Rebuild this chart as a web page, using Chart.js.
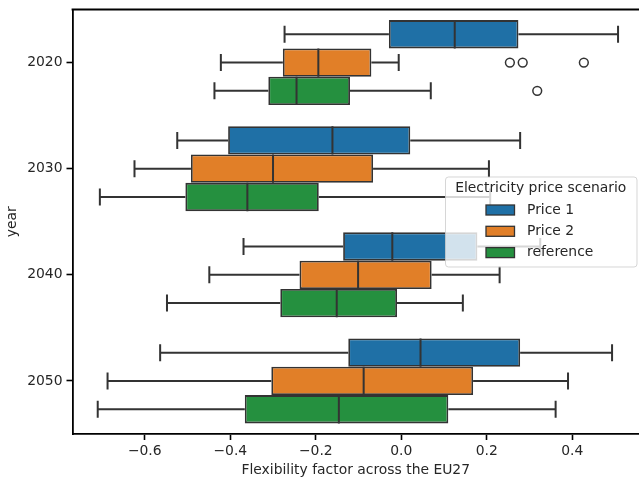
<!DOCTYPE html>
<html lang="en">
<head>
    <meta charset="UTF-8">
    <title>Flexibility factor box plot</title>
    <script src="https://cdn.jsdelivr.net/npm/chart.js@4.4.1/dist/chart.umd.min.js"></script>
    <style>
        * {
            margin: 0;
            padding: 0;
        }

        body {
            background: #ffffff;
        }

        #box {
            position: relative;
            width: 639px;
            height: 483px;
        }
    </style>
</head>
<body>
    <div id="box">
        <canvas id="chartCanvas"></canvas>
    </div>

<script>
    // categories and series
    const years = ['2020', '2030', '2040', '2050']
    const scenarios = ['Price 1', 'Price 2', 'reference']
    const colors = ['#1f70a6', '#e17f28', '#25903f']
    const xTicks = [-0.6, -0.4, -0.2, 0.0, 0.2, 0.4]

    // box statistics, one row per scenario, one column per year
    const whiskerLow = [
        [-0.273, -0.524, -0.369, -0.564],
        [-0.422, -0.624, -0.449, -0.687],
        [-0.437, -0.705, -0.548, -0.710]
    ]
    const q1 = [
        [-0.029, -0.405, -0.136, -0.124],
        [-0.277, -0.492, -0.238, -0.304],
        [-0.311, -0.505, -0.283, -0.366]
    ]
    const median = [
        [0.125, -0.161, -0.021, 0.045],
        [-0.194, -0.300, -0.101, -0.088],
        [-0.245, -0.360, -0.151, -0.146]
    ]
    const q3 = [
        [0.274, 0.021, 0.178, 0.278],
        [-0.070, -0.066, 0.071, 0.168],
        [-0.120, -0.193, -0.010, 0.110]
    ]
    const whiskerHigh = [
        [0.507, 0.278, 0.325, 0.493],
        [-0.006, 0.205, 0.230, 0.390],
        [0.069, 0.208, 0.144, 0.361]
    ]
    const outliers = [
        [[], [], [], []],
        [[0.254, 0.284, 0.427], [], [], []],
        [[0.318], [], [], []]
    ]

    const edge = '#333333'
    const fontFamily = '"DejaVu Sans", sans-serif'
    const fontSize = 13.9

    const datasets = scenarios.map(function (name, i) {
        return {
            label: name,
            data: years.map(function (y, j) { return [q1[i][j], q3[i][j]] }),
            backgroundColor: colors[i],
            borderColor: edge,
            borderWidth: 1.8,
            borderSkipped: false,
            categoryPercentage: 0.8,
            barPercentage: 1.0
        }
    })

    // whiskers, medians and fliers on top of the boxes
    const boxDetails = {
        id: 'boxDetails',
        afterDatasetsDraw(chart) {
            const ctx = chart.ctx
            const x = chart.scales.x
            ctx.save()
            ctx.strokeStyle = edge
            ctx.lineWidth = 2
            ctx.lineCap = 'butt'
            chart.data.datasets.forEach(function (ds, i) {
                const meta = chart.getDatasetMeta(i)
                meta.data.forEach(function (bar, j) {
                    const yc = bar.y
                    const h = bar.height
                    const cap = h * 0.3
                    const pLo = x.getPixelForValue(whiskerLow[i][j])
                    const pQ1 = x.getPixelForValue(q1[i][j])
                    const pMed = x.getPixelForValue(median[i][j])
                    const pQ3 = x.getPixelForValue(q3[i][j])
                    const pHi = x.getPixelForValue(whiskerHigh[i][j])
                    ctx.beginPath()
                    ctx.moveTo(pLo, yc)
                    ctx.lineTo(pQ1, yc)
                    ctx.moveTo(pQ3, yc)
                    ctx.lineTo(pHi, yc)
                    ctx.moveTo(pLo, yc - cap)
                    ctx.lineTo(pLo, yc + cap)
                    ctx.moveTo(pHi, yc - cap)
                    ctx.lineTo(pHi, yc + cap)
                    ctx.moveTo(pMed, yc - h / 2)
                    ctx.lineTo(pMed, yc + h / 2)
                    ctx.stroke()
                    outliers[i][j].forEach(function (v) {
                        ctx.beginPath()
                        ctx.arc(x.getPixelForValue(v), yc, 4.4, 0, Math.PI * 2)
                        ctx.fillStyle = '#ffffff'
                        ctx.fill()
                        ctx.lineWidth = 1.5
                        ctx.stroke()
                        ctx.lineWidth = 2
                    })
                })
            })
            // top spine
            const a = chart.chartArea
            ctx.strokeStyle = '#000000'
            ctx.lineWidth = 1.8
            ctx.beginPath()
            ctx.moveTo(a.left - 0.9, a.top)
            ctx.lineTo(a.right, a.top)
            ctx.stroke()
            ctx.restore()
        }
    }

    // legend box in the style of the reference
    const boxLegend = {
        id: 'boxLegend',
        afterDraw(chart) {
            const ctx = chart.ctx
            const left = 445, top = 176.5, w = 191.5, h = 90
            ctx.save()
            ctx.fillStyle = 'rgba(255,255,255,0.8)'
            ctx.strokeStyle = 'rgba(204,204,204,0.8)'
            ctx.lineWidth = 1
            ctx.beginPath()
            ctx.roundRect(left + 0.5, top + 0.5, w, h, 3)
            ctx.fill()
            ctx.stroke()
            ctx.font = fontSize + 'px ' + fontFamily
            ctx.fillStyle = '#262626'
            ctx.textBaseline = 'middle'
            ctx.textAlign = 'center'
            ctx.fillText('Electricity price scenario', left + w / 2, top + 11.5)
            ctx.textAlign = 'left'
            scenarios.forEach(function (name, i) {
                const yc = top + 33.5 + i * 21.3
                ctx.fillStyle = colors[i]
                ctx.fillRect(486, yc - 5, 28.5, 10)
                ctx.strokeStyle = edge
                ctx.lineWidth = 1.3
                ctx.strokeRect(486, yc - 5, 28.5, 10)
                ctx.fillStyle = '#262626'
                ctx.fillText(name, 527, yc)
            })
            ctx.restore()
        }
    }

    function fmt(v) {
        const s = Math.abs(v).toFixed(1)
        return v < -0.0001 ? '\u2212' + s : s
    }

    const chart = new Chart(document.getElementById('chartCanvas'), {
        type: 'bar',
        data: { labels: years, datasets: datasets },
        options: {
            indexAxis: 'y',
            responsive: true,
            maintainAspectRatio: false,
            animation: false,
            layout: { padding: { top: 9.5, right: 0, left: 0, bottom: 0 } },
            plugins: {
                legend: { display: false },
                tooltip: { enabled: false }
            },
            scales: {
                x: {
                    type: 'linear',
                    min: -0.769,
                    max: 0.556,
                    afterBuildTicks: function (scale) {
                        scale.ticks = xTicks.map(function (v) { return { value: v } })
                    },
                    afterFit: function (scale) {
                        scale.height = 49
                        scale.paddingLeft = 0
                        scale.paddingRight = 0
                    },
                    grid: {
                        display: true,
                        drawOnChartArea: false,
                        drawTicks: true,
                        tickLength: 6,
                        tickWidth: 1.6,
                        tickColor: '#000000'
                    },
                    border: { display: true, color: '#000000', width: 1.8 },
                    ticks: {
                        color: '#262626',
                        padding: 3,
                        maxRotation: 0,
                        font: { family: fontFamily, size: fontSize },
                        callback: function (v) { return fmt(v) }
                    },
                    title: {
                        display: true,
                        text: 'Flexibility factor across the EU27',
                        color: '#262626',
                        padding: { top: 2, bottom: 4 },
                        font: { family: fontFamily, size: fontSize }
                    }
                },
                y: {
                    type: 'category',
                    afterFit: function (scale) {
                        scale.width = 72.5
                        scale.paddingTop = 0
                        scale.paddingBottom = 0
                    },
                    grid: {
                        display: true,
                        drawOnChartArea: false,
                        drawTicks: true,
                        offset: false,
                        tickLength: 6,
                        tickWidth: 1.6,
                        tickColor: '#000000'
                    },
                    border: { display: true, color: '#000000', width: 1.8 },
                    ticks: {
                        color: '#262626',
                        padding: 4,
                        font: { family: fontFamily, size: fontSize }
                    },
                    title: {
                        display: true,
                        text: 'year',
                        color: '#262626',
                        padding: { top: 4, bottom: 4 },
                        font: { family: fontFamily, size: fontSize }
                    }
                }
            }
        },
        plugins: [boxDetails, boxLegend]
    })
</script>
</body>
</html>
